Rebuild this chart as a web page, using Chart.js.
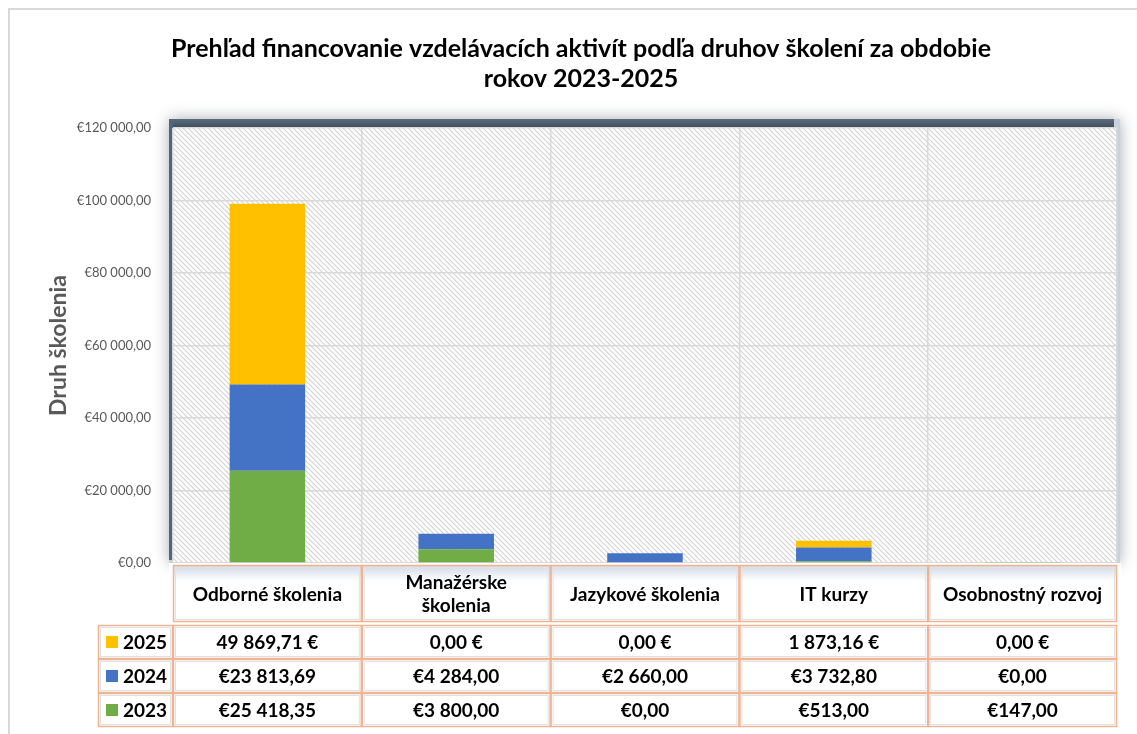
<!DOCTYPE html>
<html>
<head>
<meta charset="utf-8">
<script src="https://cdn.jsdelivr.net/npm/chart.js@4.4.1/dist/chart.umd.min.js"></script>
<style>
  html, body { margin: 0; padding: 0; background: #fff; }
  #wrap { width: 1137px; height: 734px; }
</style>
</head>
<body>
<div id="wrap"><canvas id="chart" width="1137" height="734"></canvas></div>
<script>
// data
var categories = ['Odborné školenia', ['Manažérske', 'školenia'], 'Jazykové školenia', 'IT kurzy', 'Osobnostný rozvoj'];
var years = ['2023', '2024', '2025'];
var values2023 = [25418.35, 3800.00, 0.00, 513.00, 147.00];
var values2024 = [23813.69, 4284.00, 2660.00, 3732.80, 0.00];
var values2025 = [49869.71, 0.00, 0.00, 1873.16, 0.00];
var yearColors = ['#70AD47', '#4472C4', '#FFC000'];
var suffixYears = ['2025'];   // this row is written as "1 873,16 €" in the table

var FONT = 'Lato, "Open Sans", sans-serif';

function groupNum(v) {
    var parts = v.toFixed(2).split('.');
    var s = parts[0].replace(/\B(?=(\d{3})+(?!\d))/g, ' ');
    return s + ',' + parts[1];
}

function money(v, year) {
    if (suffixYears.includes(year)) return groupNum(v) + ' €';
    return '€' + groupNum(v);
}

function makeHatch(ctx) {
    var c = document.createElement('canvas');
    c.width = 5; c.height = 5;
    var p = c.getContext('2d');
    p.fillStyle = '#ffffff';
    p.fillRect(0, 0, 5, 5);
    p.strokeStyle = '#d2d2d2';
    p.lineWidth = 1.1;
    p.beginPath();
    p.moveTo(-1, -1); p.lineTo(6, 6);
    p.moveTo(-1, 4); p.lineTo(1, 6);
    p.moveTo(4, -1); p.lineTo(6, 1);
    p.stroke();
    return ctx.createPattern(c, 'repeat');
}

var backdrop = {
    id: 'backdrop',
    beforeDraw: function (chart) {
        var ctx = chart.ctx;
        var a = chart.chartArea;
        ctx.save();
        ctx.fillStyle = '#fff';
        ctx.fillRect(0, 0, chart.width, chart.height);

        // outer chart frame
        ctx.strokeStyle = '#d9d9d9';
        ctx.lineWidth = 2;
        ctx.beginPath();
        ctx.moveTo(9, chart.height);
        ctx.lineTo(9, 9);
        ctx.lineTo(chart.width, 9);
        ctx.stroke();

        // plot frame with soft shadow
        ctx.save();
        ctx.shadowColor = 'rgba(60,70,85,0.45)';
        ctx.shadowBlur = 14;
        ctx.fillStyle = '#c9d2dc';
        ctx.fillRect(a.left - 4, a.top - 9, a.right - a.left + 7, a.bottom - a.top + 9);
        ctx.restore();

        var g = ctx.createLinearGradient(0, a.top - 9, 0, a.top);
        g.addColorStop(0, '#5d6d7d');
        g.addColorStop(1, '#3e4c5a');
        ctx.fillStyle = g;
        ctx.fillRect(a.left - 4, a.top - 9, a.right - a.left + 1, 9);
        ctx.fillStyle = '#53657a';
        ctx.fillRect(a.left - 4, a.top - 9, 4, a.bottom - a.top + 6);

        ctx.fillStyle = makeHatch(ctx);
        ctx.fillRect(a.left, a.top, a.right - a.left, a.bottom - a.top);
        ctx.restore();
    }
};

var dataTable = {
    id: 'dataTable',
    afterDraw: function (chart) {
        var ctx = chart.ctx;
        var x = chart.scales.x;
        var a = chart.chartArea;
        var cw = (a.right - a.left) / categories.length;
        var headTop = a.bottom + 2, headH = 57;
        var rowTop = headTop + headH + 3, rowH = 34;
        var legendLeft = 98;
        var rows = [
            { year: '2025', vals: values2025, color: yearColors[2] },
            { year: '2024', vals: values2024, color: yearColors[1] },
            { year: '2023', vals: values2023, color: yearColors[0] }
        ];

        ctx.save();
        ctx.textAlign = 'center';
        ctx.textBaseline = 'middle';
        ctx.fillStyle = '#fff';
        ctx.fillRect(a.left - 4, a.bottom, a.right - a.left + 8, headH + rowH * 3 + 8);
        ctx.fillRect(legendLeft, rowTop, a.left - legendLeft, rowH * 3 + 4);

        function cell(l, t, w, h) {
            ctx.strokeStyle = '#e2e2e2';
            ctx.lineWidth = 1;
            ctx.strokeRect(l + 2.5, t + 2.5, w - 5, h - 5);
            ctx.strokeStyle = '#efb494';
            ctx.lineWidth = 1.5;
            ctx.strokeRect(l + 0.5, t + 0.5, w - 1, h - 1);
        }

        // header row
        for (var i = 0; i < categories.length; i++) {
            var cx = x.getPixelForValue(i);
            var l = cx - cw / 2;
            var sh = ctx.createLinearGradient(0, headTop, 0, headTop + 16);
            sh.addColorStop(0, 'rgba(170,185,205,0.55)');
            sh.addColorStop(1, 'rgba(170,185,205,0)');
            ctx.fillStyle = sh;
            ctx.fillRect(l, headTop, cw, 16);
            cell(l, headTop, cw, headH);
            ctx.fillStyle = '#000';
            ctx.font = 'bold 19px ' + FONT;
            var lines = Array.isArray(categories[i]) ? categories[i] : [categories[i]];
            var lh = 23;
            var y0 = headTop + headH / 2 - (lines.length - 1) * lh / 2 + 1;
            for (var k = 0; k < lines.length; k++) {
                ctx.fillText(lines[k], cx, y0 + k * lh);
            }
        }

        // value rows with legend keys
        for (var r = 0; r < rows.length; r++) {
            var t = rowTop + r * rowH;
            cell(legendLeft, t, a.left - legendLeft, rowH);
            ctx.fillStyle = rows[r].color;
            ctx.fillRect(legendLeft + 8, t + rowH / 2 - 6, 12, 12);
            ctx.fillStyle = '#000';
            ctx.font = 'bold 19px ' + FONT;
            ctx.textAlign = 'left';
            ctx.fillText(rows[r].year, legendLeft + 25, t + rowH / 2 + 1);
            ctx.textAlign = 'center';
            ctx.font = 'bold 19px ' + FONT;
            for (var j = 0; j < categories.length; j++) {
                var px = x.getPixelForValue(j);
                cell(px - cw / 2, t, cw, rowH);
                ctx.fillStyle = '#000';
                ctx.fillText(money(rows[r].vals[j], rows[r].year), px, t + rowH / 2 + 1);
            }
        }
        ctx.restore();
    }
};

var ctx = document.getElementById('chart').getContext('2d');
var chart = new Chart(ctx, {
    type: 'bar',
    data: {
        labels: categories,
        datasets: [
            { label: years[0], data: values2023, backgroundColor: yearColors[0] },
            { label: years[1], data: values2024, backgroundColor: yearColors[1] },
            { label: years[2], data: values2025, backgroundColor: yearColors[2] }
        ]
    },
    options: {
        responsive: false,
        animation: false,
        layout: { padding: { left: 45, right: 20, top: 18, bottom: 171 } },
        datasets: { bar: { categoryPercentage: 0.8, barPercentage: 0.5 } },
        plugins: {
            legend: { display: false },
            tooltip: { enabled: false },
            title: {
                display: true,
                text: ['Prehľad financovanie vzdelávacích aktivít podľa druhov školení za obdobie', 'rokov 2023-2025'],
                color: '#000',
                font: { family: FONT, size: 25, weight: 'bold', lineHeight: 1.2 },
                padding: { top: 16, bottom: 34 }
            }
        },
        scales: {
            x: {
                stacked: true,
                grid: { color: '#d9d9d9', lineWidth: 1.5, drawTicks: false },
                border: { display: false },
                ticks: { display: false }
            },
            y: {
                stacked: true,
                min: 0,
                max: 120000,
                afterFit: function (scale) { scale.width = 128; },
                grid: { color: '#d9d9d9', lineWidth: 1.5, drawTicks: false },
                border: { display: false },
                ticks: {
                    stepSize: 20000,
                    padding: 22,
                    color: '#595959',
                    font: { family: FONT, size: 13 },
                    callback: function (v) { return '€' + groupNum(v); }
                },
                title: {
                    display: true,
                    text: 'Druh školenia',
                    color: '#595959',
                    font: { family: FONT, size: 23, weight: 'bold' },
                    padding: { top: 0, bottom: 0 }
                }
            }
        }
    },
    plugins: [backdrop, dataTable]
});
</script>
</body>
</html>
